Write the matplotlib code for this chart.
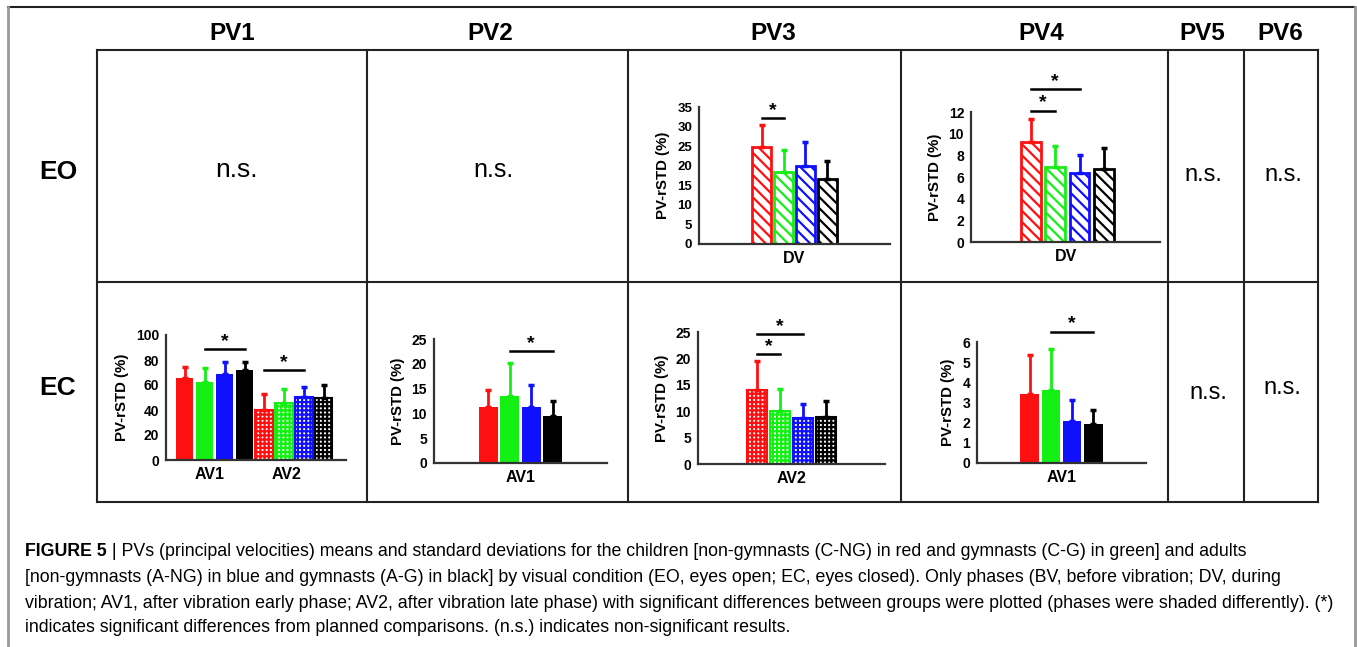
import numpy as np
import matplotlib
matplotlib.use("Agg")
import matplotlib.pyplot as plt

plt.rcParams['font.family'] = ['Liberation Sans', 'DejaVu Sans']
plt.rcParams['hatch.linewidth'] = 1.6

W, H = 1357, 647

groups = ['C-NG', 'C-G', 'A-NG', 'A-G']
colors = ['#ff1010', '#14f014', '#1010ff', '#000000']

# EO, DV phase
pv3_eo_dv_mean = [24.7, 18.5, 19.8, 16.7]
pv3_eo_dv_sd = [5.8, 5.5, 6.2, 4.6]
pv4_eo_dv_mean = [9.2, 6.95, 6.37, 6.77]
pv4_eo_dv_sd = [2.15, 1.9, 1.65, 1.9]

# EC
pv1_ec_av1_mean = [65.3, 62.1, 68.5, 72.0]
pv1_ec_av1_sd = [9.4, 11.2, 10.2, 6.7]
pv1_ec_av2_mean = [40.0, 45.9, 50.7, 49.3]
pv1_ec_av2_sd = [12.8, 10.9, 7.4, 10.7]
pv2_ec_av1_mean = [11.3, 13.6, 11.2, 9.5]
pv2_ec_av1_sd = [3.5, 6.6, 4.6, 3.1]
pv3_ec_av2_mean = [14.0, 10.1, 8.7, 8.9]
pv3_ec_av2_sd = [5.5, 4.1, 2.7, 3.0]
pv4_ec_av1_mean = [3.42, 3.62, 2.08, 1.93]
pv4_ec_av1_sd = [1.95, 2.05, 1.02, 0.71]

col_labels = ['PV1', 'PV2', 'PV3', 'PV4', 'PV5', 'PV6']
row_labels = ['EO', 'EC']

caption_bold = 'FIGURE 5'
caption_lines = [
    ' | PVs (principal velocities) means and standard deviations for the children [non-gymnasts (C-NG) in red and gymnasts (C-G) in green] and adults',
    '[non-gymnasts (A-NG) in blue and gymnasts (A-G) in black] by visual condition (EO, eyes open; EC, eyes closed). Only phases (BV, before vibration; DV, during',
    'vibration; AV1, after vibration early phase; AV2, after vibration late phase) with significant differences between groups were plotted (phases were shaded differently). (*)',
    'indicates significant differences from planned comparisons. (n.s.) indicates non-significant results.',
]

fig = plt.figure(figsize=(W / 100, H / 100), dpi=100)

# background axes in pixel units for the table, headers and caption
bg = fig.add_axes([0, 0, 1, 1])
bg.set_xlim(0, W)
bg.set_ylim(H, 0)
bg.axis('off')

# outer frame
bg.plot([8, 1355], [7, 7], color='#222222', lw=1.5)
bg.plot([8, 8], [7, H], color='#999999', lw=2)
bg.plot([1355, 1355], [7, H], color='#999999', lw=2)

# table grid
col_x = [97, 367, 628, 901, 1168, 1244, 1318]
row_y = [50, 282, 502]
for x in col_x:
    bg.plot([x, x], [row_y[0], row_y[-1]], color='#222222', lw=1.5)
for y in row_y:
    bg.plot([col_x[0], col_x[-1]], [y, y], color='#222222', lw=1.5)

col_cx = [232, 490, 773, 1041, 1202, 1280]
for lab, cx in zip(col_labels, col_cx):
    bg.text(cx, 33, lab, ha='center', va='center', fontsize=17.5, fontweight='bold')
for lab, cy in zip(row_labels, [172, 388]):
    bg.text(58, cy, lab, ha='center', va='center', fontsize=19, fontweight='bold')

for cx, cy, fs in [(236, 170, 19), (493, 170, 18), (1203, 175, 17), (1283, 175, 17),
                   (1208, 393, 17), (1282, 388, 17)]:
    bg.text(cx, cy, 'n.s.', ha='center', va='center', fontsize=fs)

# caption
cap_fs = 12.8
t = bg.text(25, 551, caption_bold, ha='left', va='center', fontsize=cap_fs, fontweight='bold')
bg.annotate(caption_lines[0], xy=(1, 0.5), xycoords=t, ha='left', va='center', fontsize=cap_fs)
for line, cy in zip(caption_lines[1:], [578, 603, 628]):
    bg.text(25, cy, line, ha='left', va='center', fontsize=cap_fs)


def panel(x0, x1, y0, y1, ymax, step, xlim=(-1, 1), tick_fs=10):
    ax = fig.add_axes([x0 / W, 1 - y0 / H, (x1 - x0) / W, (y0 - y1) / H])
    ax.set_xlim(*xlim)
    ax.set_ylim(0, ymax)
    ax.set_yticks(np.arange(0, ymax + step / 2, step))
    for s in ['top', 'right']:
        ax.spines[s].set_visible(False)
    for s in ['left', 'bottom']:
        ax.spines[s].set_linewidth(1.6)
        ax.spines[s].set_color('#333333')
    ax.tick_params(length=0, pad=5)
    for lab in ax.get_yticklabels():
        lab.set_fontweight('bold')
        lab.set_fontsize(tick_fs)
    ax.set_ylabel('PV-rSTD (%)', fontweight='bold', fontsize=10.8, labelpad=5)
    ax.patch.set_alpha(0)
    return ax


def bars(ax, center, means, sds, spacing, width, style):
    xs = center + (np.arange(4) - 1.5) * spacing
    for x, m, s, c in zip(xs, means, sds, colors):
        if style == 'solid':
            ax.bar(x, m, width, color=c, edgecolor='none', zorder=2)
        elif style == 'stripe':
            ax.bar(x, m, width, facecolor='white', edgecolor=c, hatch='\\\\\\', linewidth=2, zorder=2)
        else:
            ax.bar(x, m, width, facecolor='white', edgecolor=c, hatch='++++', linewidth=1.5, zorder=2)
        ax.errorbar(x, m, yerr=[[0], [s]], fmt='none', ecolor=c, elinewidth=2,
                    capsize=2.2, capthick=2.5, zorder=3)
    return xs


def sig(ax, xa, xb, y, dy):
    ax.plot([xa, xb], [y, y], color='black', lw=1.8, clip_on=False)
    ax.text((xa + xb) / 2, y + dy, '*', ha='center', va='center', fontsize=14,
            fontweight='bold', clip_on=False)


def xlabels(ax, pos, labs):
    ax.set_xticks(pos)
    ax.set_xticklabels(labs, fontweight='bold', fontsize=11.5)


# PV3 EO
ax = panel(699, 890, 244, 107, 35, 5, tick_fs=9.5)
xs = bars(ax, 0, pv3_eo_dv_mean, pv3_eo_dv_sd, 0.23, 0.19, 'stripe')
sig(ax, xs[0], xs[1], 32.2, 2.0)
xlabels(ax, [0], ['DV'])

# PV4 EO
ax = panel(971, 1160, 242, 112, 12, 2)
xs = bars(ax, 0.02, pv4_eo_dv_mean, pv4_eo_dv_sd, 0.257, 0.21, 'stripe')
sig(ax, xs[0], xs[1], 12.1, 0.75)
sig(ax, xs[0], xs[2], 14.1, 0.75)
xlabels(ax, [0], ['DV'])

# PV1 EC
ax = panel(166, 346, 460, 335, 100, 20, xlim=(0, 2))
xa = bars(ax, 0.54, pv1_ec_av1_mean, pv1_ec_av1_sd, 0.222, 0.194, 'solid')
xb = bars(ax, 1.42, pv1_ec_av2_mean, pv1_ec_av2_sd, 0.222, 0.194, 'check')
sig(ax, xa[1], xa[3], 88.5, 6)
sig(ax, xb[0], xb[2], 72, 6)
xlabels(ax, [0.48, 1.34], ['AV1', 'AV2'])

# PV2 EC
ax = panel(434, 607, 463, 339, 25, 5)
xs = bars(ax, 0, pv2_ec_av1_mean, pv2_ec_av1_sd, 0.249, 0.22, 'solid')
sig(ax, xs[1], xs[3], 22.5, 1.5)
xlabels(ax, [0], ['AV1'])

# PV3 EC
ax = panel(698, 885, 464, 332, 25, 5)
xs = bars(ax, 0, pv3_ec_av2_mean, pv3_ec_av2_sd, 0.246, 0.21, 'check')
sig(ax, xs[0], xs[1], 20.75, 1.4)
sig(ax, xs[0], xs[2], 24.6, 1.4)
xlabels(ax, [0], ['AV2'])

# PV4 EC
ax = panel(977, 1146, 463, 342, 6, 1)
xs = bars(ax, 0, pv4_ec_av1_mean, pv4_ec_av1_sd, 0.252, 0.219, 'solid')
sig(ax, xs[1], xs[3], 6.52, 0.38)
xlabels(ax, [0], ['AV1'])

fig.savefig('out.png', dpi=100)
